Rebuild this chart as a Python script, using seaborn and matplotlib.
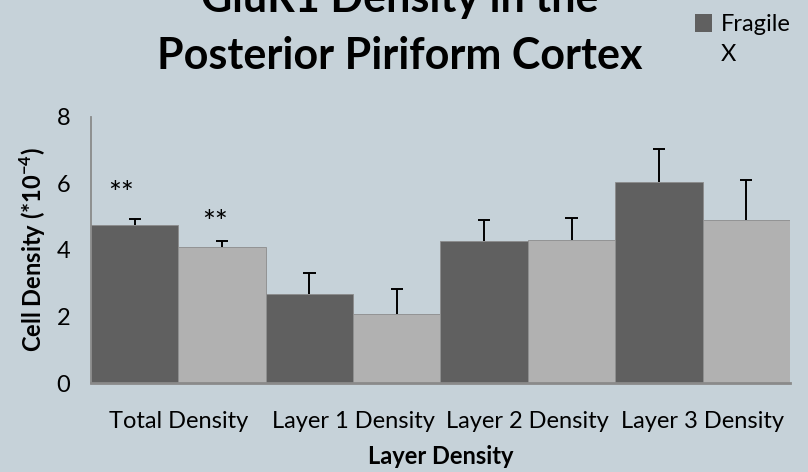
import pandas as pd
import numpy as np
import matplotlib.pyplot as plt
import seaborn as sns
from matplotlib.patches import Patch

# Values
categories = ['Total Density', 'Layer 1 Density', 'Layer 2 Density', 'Layer 3 Density']
groups = ['Fragile X', 'Control']
fragile_x = [4.75, 2.67, 4.27, 6.03]
fragile_x_err = [0.18, 0.64, 0.64, 0.99]
control = [4.10, 2.08, 4.31, 4.91]
control_err = [0.18, 0.75, 0.66, 1.18]
stars_fx = ['**', '', '', '']
stars_ctrl = ['**', '', '', '']

df = pd.DataFrame({
    'Layer': categories * 2,
    'Group': [groups[0]] * 4 + [groups[1]] * 4,
    'Density': fragile_x + control,
    'Err': fragile_x_err + control_err,
})

bg = '#C6D2D9'
dark = '#606060'
light = '#B1B1B1'
axis_grey = '#8A8A8A'

sns.set_style('white')
plt.rcParams['font.family'] = ['Lato', 'DejaVu Sans']
plt.rcParams['text.color'] = 'black'
plt.rcParams['axes.labelcolor'] = 'black'
plt.rcParams['mathtext.fontset'] = 'custom'
plt.rcParams['mathtext.rm'] = 'Lato'
plt.rcParams['mathtext.bf'] = 'Lato:bold'

fig = plt.figure(figsize=(8.08, 4.72), dpi=100, facecolor=bg)
ax = fig.add_axes([0.1126, 0.188, 0.8651, 0.5648])
ax.set_facecolor(bg)

sns.barplot(data=df, x='Layer', y='Density', hue='Group', palette=[dark, light],
            width=1.0, errorbar=None, ax=ax, legend=False,
            edgecolor='#8C8C8C', linewidth=0.6)

# upper error bars only (stem + top cap), placed on the bars seaborn drew
bars = ax.patches[:len(df)]
for patch, val, err in zip(bars, df['Density'], df['Err']):
    xc = patch.get_x() + patch.get_width() / 2
    ax.vlines(xc, val, val + err, color='black', linewidth=1.4)
    ax.hlines(val + err, xc - 0.035, xc + 0.035, color='black', linewidth=1.4)

# significance stars
for i in range(len(categories)):
    if stars_fx[i]:
        p = bars[i]
        ax.text(p.get_x() + p.get_width() / 2 - 0.075, fragile_x[i] + 0.93, stars_fx[i],
                ha='center', va='center', fontsize=22)
    if stars_ctrl[i]:
        p = bars[i + 4]
        ax.text(p.get_x() + p.get_width() / 2 - 0.04, control[i] + 0.7, stars_ctrl[i],
                ha='center', va='center', fontsize=22)

ax.set_xlim(-0.5, 3.5)
ax.set_ylim(0, 8)
ax.set_yticks([0, 2, 4, 6, 8])
ax.tick_params(axis='y', length=9, width=1.3, color=axis_grey, labelcolor='black',
               labelsize=17, pad=6)
ax.tick_params(axis='x', length=0, labelcolor='black', labelsize=17, pad=20)

for side in ['top', 'right']:
    ax.spines[side].set_visible(False)
ax.spines['left'].set_color(axis_grey)
ax.spines['left'].set_linewidth(1.3)
ax.spines['bottom'].set_color(axis_grey)
ax.spines['bottom'].set_linewidth(2)

ax.set_xlabel('Layer Density', fontsize=17, fontweight='bold', labelpad=9)
ax.set_ylabel(r'Cell Density (*10$^{\mathbf{-4}}$)', fontsize=17, fontweight='bold', labelpad=6)

# title, top line partly off the canvas as in the original
fig.text(0.495, 0.975, 'GluR1 Density in the', ha='center', va='baseline',
         fontsize=31, fontweight='bold')
fig.text(0.495, 0.854, 'Posterior Piriform Cortex', ha='center', va='baseline',
         fontsize=31, fontweight='bold')

leg = fig.legend(handles=[Patch(facecolor=dark, edgecolor='none')], labels=['Fragile'],
                 loc='upper left', bbox_to_anchor=(0.842, 1.0), frameon=False,
                 fontsize=17, handlelength=0.75, handleheight=0.75, handletextpad=0.35,
                 borderaxespad=0.2)

# the legend label wraps onto a second line in the original
fig.canvas.draw()
tb = leg.get_texts()[0].get_window_extent()
fig.text(tb.x0 / fig.bbox.width, (tb.y0 - 30) / fig.bbox.height, 'X',
         fontsize=17, ha='left', va='bottom')

fig.savefig('out.png', dpi=100, facecolor=bg)
